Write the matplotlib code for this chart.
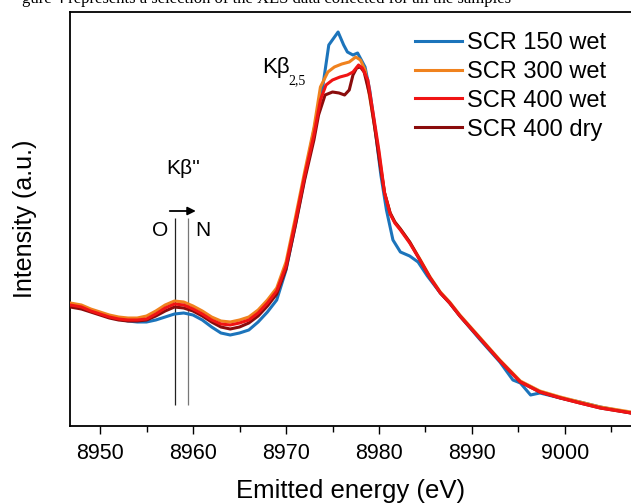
import matplotlib
matplotlib.use("Agg")
import matplotlib.pyplot as plt
from matplotlib.ticker import MultipleLocator

plt.rcParams['font.family'] = ['Liberation Sans', 'DejaVu Sans']

# ---- data (intensity in arbitrary units) ----
e_150 = [8946.8, 8948, 8949, 8950, 8951, 8952, 8953, 8954, 8955, 8956, 8957, 8958, 8959,
         8960, 8961, 8962, 8963, 8964, 8965, 8966, 8967, 8968, 8969, 8970, 8971, 8972,
         8973, 8973.9, 8974.6, 8975.6, 8976.2, 8976.6, 8977.2, 8977.7, 8978.5, 8979,
         8979.6, 8980.2, 8980.8, 8981.5, 8982.3, 8983.3, 8984.2, 8985.2, 8986.6, 8987.6,
         8988.7, 8990.9, 8993, 8994.4, 8995.2, 8996.3, 8997.3, 8999.5, 9001.6, 9003.8, 9007.1]
i_150 = [121, 118, 115, 112, 109, 107, 105, 104, 104, 106, 109, 112, 113,
         111, 106, 99, 93, 91, 93, 96, 104, 114, 126, 156, 201, 248,
         296, 336, 381, 394, 381, 374, 371, 373, 359, 336,
         296, 251, 216, 186, 174, 170, 164, 150, 133, 123,
         110, 86, 64, 46, 43, 31, 33, 28, 24, 19, 13]

e_300 = [8946.8, 8948, 8949, 8950, 8951, 8952, 8953, 8954, 8955, 8956, 8957, 8958, 8959,
         8960, 8961, 8962, 8963, 8964, 8965, 8966, 8967, 8968, 8969, 8970, 8971, 8972,
         8973, 8973.7, 8974.5, 8975.2, 8976, 8976.8, 8977.5, 8978, 8978.5, 8979.2,
         8979.9, 8980.6, 8981.2, 8981.7, 8982.3, 8983.3, 8984.4, 8985.5, 8986.6, 8987.6,
         8988.7, 8990.9, 8993, 8995.2, 8997.3, 8999.5, 9001.6, 9003.8, 9007.1]
i_300 = [123, 121, 117, 114, 111, 109, 108, 108, 110, 115, 121, 125, 124,
         120, 115, 109, 105, 104, 106, 109, 116, 126, 138, 164, 208, 254,
         298, 339, 354, 359, 362, 364, 369, 366, 356, 318,
         278, 233, 213, 204, 197, 184, 167, 149, 134, 124,
         111, 88, 66, 45, 35, 29, 24, 19, 14]

e_400w = [8946.8, 8948, 8949, 8950, 8951, 8952, 8953, 8954, 8955, 8956, 8957, 8958, 8959,
          8960, 8961, 8962, 8963, 8964, 8965, 8966, 8967, 8968, 8969, 8970, 8971, 8972,
          8973, 8973.7, 8974.3, 8975, 8975.8, 8976.6, 8977.2, 8977.8, 8978.2, 8978.8,
          8979.4, 8980, 8980.6, 8981.2, 8981.7, 8982.3, 8983.3, 8984.4, 8985.5, 8986.6,
          8987.6, 8988.7, 8990.9, 8993, 8995.2, 8997.3, 8999.5, 9001.6, 9003.8, 9007.1]
i_400w = [121, 119, 115, 112, 109, 107, 106, 106, 107, 112, 118, 122, 121,
          117, 112, 106, 102, 101, 103, 106, 113, 123, 135, 160, 204, 250,
          291, 326, 341, 346, 349, 351, 354, 361, 358, 346,
          311, 275, 233, 212, 203, 196, 183, 166, 148, 133,
          123, 110, 87, 65, 44, 34, 28, 23, 18, 13]

e_400d = [8946.8, 8948, 8949, 8950, 8951, 8952, 8953, 8954, 8955, 8956, 8957, 8958, 8959,
          8960, 8961, 8962, 8963, 8964, 8965, 8966, 8967, 8968, 8969, 8970, 8971, 8972,
          8973, 8973.5, 8974.2, 8975, 8975.7, 8976.3, 8976.8, 8977.2, 8977.6, 8978,
          8978.4, 8979, 8979.5, 8980.1, 8980.6, 8981.2, 8981.7, 8982.3, 8983.3, 8984.4,
          8985.5, 8986.6, 8987.6, 8988.7, 8990.9, 8993, 8995.2, 8997.3, 8999.5, 9001.6,
          9003.8, 9007.1]
i_400d = [119, 117, 114, 111, 108, 106, 105, 105, 106, 110, 115, 119, 118,
          115, 110, 104, 99, 97, 99, 103, 110, 120, 132, 157, 200, 246,
          286, 311, 331, 334, 333, 331, 336, 351, 358, 359,
          354, 331, 301, 262, 233, 213, 204, 197, 184, 166,
          148, 133, 123, 110, 87, 65, 44, 34, 28, 23,
          18, 13]

labels = ['SCR 150 wet', 'SCR 300 wet', 'SCR 400 wet', 'SCR 400 dry']
colors = ['#1c74bb', '#f0821e', '#f01414', '#8a0c0c']

# Kb'' guide lines (O / N)
guide_e = [8958.05, 8959.45]
guide_top = 208
guide_bottom = 21

fig = plt.figure(figsize=(6.31, 5.04), dpi=100)
ax = fig.add_axes([70/631, 78/504, 561/631, 414/504])

ax.plot(e_150, i_150, color=colors[0], lw=2.2, label=labels[0], zorder=3)
ax.plot(e_300, i_300, color=colors[1], lw=2.2, label=labels[1], zorder=4)
ax.plot(e_400d, i_400d, color=colors[3], lw=2.2, label=labels[3], zorder=5)
ax.plot(e_400w, i_400w, color=colors[2], lw=2.2, label=labels[2], zorder=6)

ax.vlines(guide_e[0], guide_bottom, guide_top, color='#222222', lw=0.9, zorder=2)
ax.vlines(guide_e[1], guide_bottom, guide_top, color='#777777', lw=0.9, zorder=2)

ax.annotate('', xy=(8960.6, 215), xytext=(8957.2, 215),
            arrowprops=dict(arrowstyle='-|>', color='black', lw=1.3, mutation_scale=12))
ax.text(8958.9, 258, "K\u03b2''", fontsize=15, ha='center', va='center')
ax.text(8956.45, 196, 'O', fontsize=15, ha='center', va='center')
ax.text(8961.1, 196, 'N', fontsize=15, ha='center', va='center')
ax.text(8967.4, 358, 'K\u03b2', fontsize=16, ha='left', va='center')
ax.text(8970.3, 345, '2,5', fontsize=10, family='Liberation Serif', ha='left', va='center')

ax.set_xlim(8946.77, 9007.1)
ax.set_ylim(0, 414)
ax.xaxis.set_major_locator(MultipleLocator(10))
ax.xaxis.set_minor_locator(MultipleLocator(5))
ax.set_yticks([])
ax.tick_params(axis='x', which='major', length=6, width=1.0, labelsize=15.5, pad=6)
ax.tick_params(axis='x', which='minor', length=4, width=1.0)
for s in ['left', 'bottom', 'top']:
    ax.spines[s].set_linewidth(1.3)
ax.spines['right'].set_visible(False)

ax.set_xlabel('Emitted energy (eV)', fontsize=18.5, labelpad=11)
ax.set_ylabel('Intensity (a.u.)', fontsize=18, labelpad=24)

handles, labs = ax.get_legend_handles_labels()
order = [labs.index(l) for l in labels]
ax.legend([handles[k] for k in order], labels, loc='upper left', frameon=False,
          fontsize=17, handlelength=2.0, handletextpad=0.2, labelspacing=0.29,
          borderpad=0, borderaxespad=0,
          bbox_to_anchor=(415/631, 1 - 32/504), bbox_transform=fig.transFigure)

fig.text(0.035, 0.995, 'gure 4 represents a selection of the XES data collected for all the samples',
         fontsize=12, family='Liberation Serif', va='baseline', ha='left')

fig.savefig('out.png', dpi=100)
